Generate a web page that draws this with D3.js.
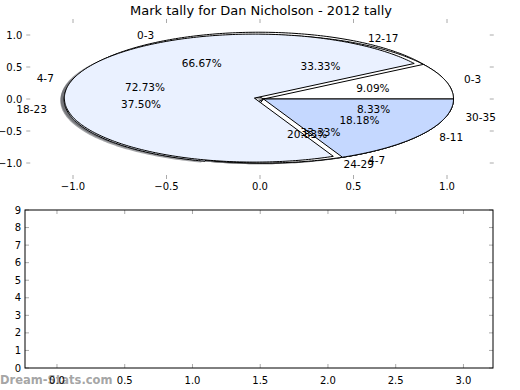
<!DOCTYPE html>
<html>
<head>
<meta charset="utf-8">
<script src="https://cdn.jsdelivr.net/npm/d3@7/dist/d3.min.js"></script>
<style>
  html, body { margin: 0; padding: 0; background: #fff; }
  svg { display: block; font-family: "DejaVu Sans", sans-serif; }
</style>
</head>
<body>
<svg id="chart" width="520" height="390"></svg>
<script>
// ---------------- data ----------------
const title = "Mark tally for Dan Nicholson - 2012 tally";

const pie1Labels = ["0-3", "4-7"];
const pie1Values = [2, 1];
const pie1Explode = [0.05, 0];

const pie2Labels = ["0-3", "4-7", "8-11"];
const pie2Values = [1, 8, 2];
const pie2Explode = [0, 0.05, 0];

const pie3Labels = ["12-17", "18-23", "24-29", "30-35"];
const pie3Values = [8, 9, 5, 2];
const pie3Explode = [0, 0.05, 0, 0];

const pieTicks = [-1.0, -0.5, 0.0, 0.5, 1.0];
const bottomXTicks = [0.0, 0.5, 1.0, 1.5, 2.0, 2.5, 3.0];
const bottomYTicks = [0, 1, 2, 3, 4, 5, 6, 7, 8, 9];
const watermark = "Dream-Stats.com";

// ---------------- styles ----------------
const pie1Colors = ["#ffffff", "#eaf1ff"];
const pie3Colors = ["#ffffff", "#eaf1ff", "#ffffff", "#c5d8ff"];
const pie2Colors = ["#ffffff", "#eaf1ff", "#c5d8ff"];

const svg = d3.select("#chart");
const tickColor = "#aaaaaa";
const fmt1 = v => (v < 0 ? "\u2212" : "") + Math.abs(v).toFixed(1);

// ---------------- top (pie) axes ----------------
const topBox = { l: 26.25, r: 493.75, t: 19, b: 179 };
const xA = d3.scaleLinear().domain([-1.25, 1.25]).range([topBox.l, topBox.r]);
const yA = d3.scaleLinear().domain([-1.25, 1.25]).range([topBox.b, topBox.t]);
// the pie itself sits slightly wider than the tick axis
const xP = d3.scaleLinear().domain([-1, 1]).range([73.5, 453.5]);
const yP = d3.scaleLinear().domain([-1, 1]).range([163, 35]);

// title
svg.append("text").attr("x", 261).attr("y", 10)
  .attr("text-anchor", "middle").attr("dominant-baseline", "central")
  .attr("font-size", 13).text(title);

// ticks of top axes (inside, gray, no frame)
const gTop = svg.append("g");
pieTicks.forEach(t => {
  gTop.append("line").attr("x1", xA(t)).attr("x2", xA(t)).attr("y1", topBox.b).attr("y2", topBox.b - 4)
    .attr("stroke", tickColor);
  gTop.append("line").attr("x1", xA(t)).attr("x2", xA(t)).attr("y1", topBox.t).attr("y2", topBox.t + 4)
    .attr("stroke", tickColor);
  gTop.append("line").attr("y1", yA(t)).attr("y2", yA(t)).attr("x1", topBox.l).attr("x2", topBox.l + 4)
    .attr("stroke", tickColor);
  gTop.append("line").attr("y1", yA(t)).attr("y2", yA(t)).attr("x1", topBox.r).attr("x2", topBox.r - 4)
    .attr("stroke", tickColor);
  gTop.append("text").attr("x", xA(t)).attr("y", 186).attr("text-anchor", "middle")
    .attr("dominant-baseline", "central").attr("font-size", 10).text(fmt1(t));
  gTop.append("text").attr("x", topBox.l - 4).attr("y", yA(t)).attr("text-anchor", "end")
    .attr("dominant-baseline", "central").attr("font-size", 10).text(fmt1(t));
});

// pie geometry
const pieGen = d3.pie().sort(null).startAngle(0).endAngle(2 * Math.PI);
function buildPie(labels, values, explode, colors) {
  const total = d3.sum(values);
  return pieGen(values).map((d, i) => {
    const a0 = d.startAngle, a1 = d.endAngle, am = (a0 + a1) / 2;
    const ex = explode[i] * Math.cos(am), ey = explode[i] * Math.sin(am);
    return { label: labels[i], pct: (100 * values[i] / total).toFixed(2) + "%",
             a0, a1, am, ex, ey, color: colors[i] };
  });
}
const pies = [
  buildPie(pie1Labels, pie1Values, pie1Explode, pie1Colors),
  buildPie(pie3Labels, pie3Values, pie3Explode, pie3Colors),
  buildPie(pie2Labels, pie2Values, pie2Explode, pie2Colors)
];

const line = d3.line().x(p => xP(p[0])).y(p => yP(p[1]));
function wedgePoints(w, ox, oy) {
  const pts = [[w.ex + ox, w.ey + oy]];
  const n = Math.max(2, Math.ceil((w.a1 - w.a0) / (Math.PI / 180)));
  for (let k = 0; k <= n; k++) {
    const a = w.a0 + (w.a1 - w.a0) * k / n;
    pts.push([w.ex + ox + Math.cos(a), w.ey + oy + Math.sin(a)]);
  }
  pts.push([w.ex + ox, w.ey + oy]);
  return pts;
}

// shadows first (below every wedge)
const gShadow = svg.append("g");
pies.forEach(p => p.forEach(w => {
  const c = d3.rgb(w.color);
  gShadow.append("path").attr("d", line(wedgePoints(w, -0.02, -0.02)) + "Z")
    .attr("fill", d3.rgb(c.r * 0.3, c.g * 0.3, c.b * 0.3)).attr("fill-opacity", 0.5)
    .attr("stroke", "none");
}));

// wedges
const gWedge = svg.append("g");
pies.forEach(p => p.forEach(w => {
  gWedge.append("path").attr("d", line(wedgePoints(w, 0, 0)) + "Z")
    .attr("fill", w.color).attr("stroke", "#000").attr("stroke-width", 1)
    .attr("stroke-linejoin", "miter");
}));

// labels
const gLab = svg.append("g");
pies.forEach(p => p.forEach(w => {
  const xt = w.ex + 1.1 * Math.cos(w.am), yt = w.ey + 1.1 * Math.sin(w.am);
  gLab.append("text").attr("x", xP(xt)).attr("y", yP(yt))
    .attr("text-anchor", xt > 0 ? "start" : "end").attr("dominant-baseline", "central")
    .attr("font-size", 10.5).text(w.label);
  const xp = w.ex + 0.6 * Math.cos(w.am), yp = w.ey + 0.6 * Math.sin(w.am);
  gLab.append("text").attr("x", xP(xp)).attr("y", yP(yp))
    .attr("text-anchor", "middle").attr("dominant-baseline", "central")
    .attr("font-size", 10.5).text(w.pct);
}));

// ---------------- bottom (empty) axes ----------------
const bot = { l: 25, r: 493, t: 210, b: 368 };
const xB = d3.scaleLinear().domain([-0.236, 3.218]).range([bot.l, bot.r]);
const yB = d3.scaleLinear().domain([0, 9]).range([bot.b, bot.t]);

// watermark (under tick labels)
svg.append("text").attr("x", 0).attr("y", 380).attr("dominant-baseline", "central")
  .attr("font-size", 11.5).attr("font-weight", "bold").attr("fill", "#9a9a9a")
  .attr("fill-opacity", 0.9).text(watermark);

const gBot = svg.append("g");
bottomXTicks.forEach(t => {
  gBot.append("line").attr("x1", xB(t)).attr("x2", xB(t)).attr("y1", bot.b).attr("y2", bot.b - 4)
    .attr("stroke", tickColor);
  gBot.append("line").attr("x1", xB(t)).attr("x2", xB(t)).attr("y1", bot.t).attr("y2", bot.t + 4)
    .attr("stroke", tickColor);
  gBot.append("text").attr("x", xB(t)).attr("y", 380).attr("text-anchor", "middle")
    .attr("dominant-baseline", "central").attr("font-size", 10).text(fmt1(t));
});
bottomYTicks.forEach(t => {
  gBot.append("line").attr("y1", yB(t)).attr("y2", yB(t)).attr("x1", bot.l).attr("x2", bot.l + 4)
    .attr("stroke", tickColor);
  gBot.append("line").attr("y1", yB(t)).attr("y2", yB(t)).attr("x1", bot.r).attr("x2", bot.r - 4)
    .attr("stroke", tickColor);
  gBot.append("text").attr("x", bot.l - 4).attr("y", yB(t)).attr("text-anchor", "end")
    .attr("dominant-baseline", "central").attr("font-size", 10).text(String(t));
});
gBot.append("rect").attr("x", bot.l).attr("y", bot.t)
  .attr("width", bot.r - bot.l).attr("height", bot.b - bot.t)
  .attr("fill", "none").attr("stroke", "#000").attr("stroke-width", 1);
</script>
</body>
</html>
